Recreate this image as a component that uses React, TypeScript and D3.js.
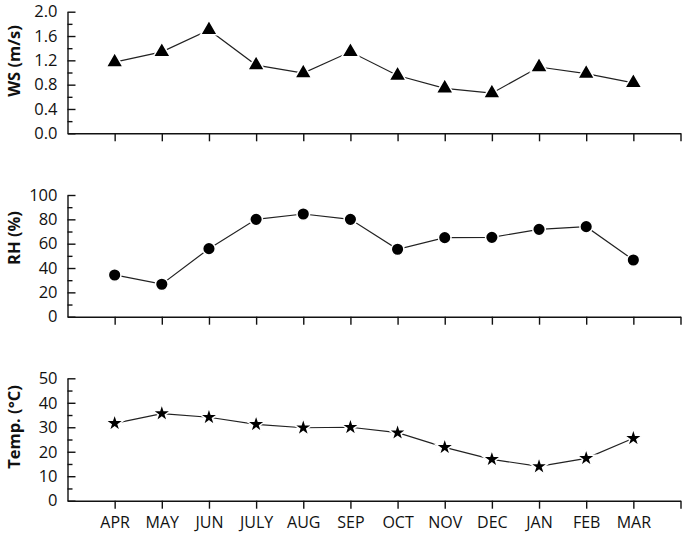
import React, { useRef, useEffect } from 'react';
import * as d3 from 'd3';

const months = ['APR', 'MAY', 'JUN', 'JULY', 'AUG', 'SEP', 'OCT', 'NOV', 'DEC', 'JAN', 'FEB', 'MAR'];
const wsValues = [1.17, 1.34, 1.7, 1.12, 0.99, 1.34, 0.95, 0.74, 0.66, 1.09, 0.98, 0.83];
const rhValues = [34.3, 26.7, 55.9, 80, 84.4, 80, 55.4, 65, 65.2, 71.8, 74, 46.6];
const tempValues = [31.6, 35.6, 34.1, 31.2, 29.8, 30, 27.8, 21.8, 16.9, 14, 17.3, 25.5];
const wsTicks = [0, 0.4, 0.8, 1.2, 1.6, 2.0];
const rhTicks = [0, 20, 40, 60, 80, 100];
const tempTicks = [0, 10, 20, 30, 40, 50];

const FONT = '"Open Sans", sans-serif';

function App() {
  const svgRef = useRef(null);

  useEffect(() => {
    const svg = d3.select(svgRef.current);
    svg.selectAll('*').remove();

    const x = d3.scaleLinear().domain([-1, months.length]).range([67.5, 680.5]);

    const panels = [
      { title: 'WS (m/s)', values: wsValues, ticks: wsTicks, fmt: (d) => d.toFixed(1), top: 11.7, bottom: 133.3, titleY: 61, marker: d3.symbolTriangle, size: 125 },
      { title: 'RH (%)', values: rhValues, ticks: rhTicks, fmt: (d) => String(d), top: 195, bottom: 316.7, titleY: 238, marker: d3.symbolCircle, size: 125 },
      { title: 'Temp. (°C)', values: tempValues, ticks: tempTicks, fmt: (d) => String(d), top: 378.3, bottom: 500.7, titleY: 427, marker: d3.symbolStar, size: 105 },
    ];

    panels.forEach((p, pi) => {
      const max = p.ticks[p.ticks.length - 1];
      const step = p.ticks[1] - p.ticks[0];
      const y = d3.scaleLinear().domain([0, max]).range([p.bottom, p.top]);
      const g = svg.append('g');

      // minor ticks
      const minor = d3.range(0, max, step).map((v) => v + step / 2);
      g.append('g')
        .attr('transform', `translate(${x(-1)},0)`)
        .call(d3.axisLeft(y).tickValues(minor).tickSize(-5).tickSizeOuter(0).tickFormat(() => ''))
        .call((a) => a.select('.domain').remove());

      const yAxis = g.append('g')
        .attr('transform', `translate(${x(-1)},0)`)
        .call(d3.axisLeft(y).tickValues(p.ticks).tickSize(-8).tickSizeOuter(0).tickPadding(10).tickFormat(p.fmt));
      yAxis.selectAll('text').attr('font-size', 16.5).attr('font-family', FONT).attr('fill', '#111');

      const xAxis = g.append('g')
        .attr('transform', `translate(0,${p.bottom})`)
        .call(d3.axisBottom(x).tickValues(d3.range(0, months.length + 1)).tickSize(8).tickSizeOuter(0).tickPadding(8)
          .tickFormat((i) => (pi === panels.length - 1 && months[i] ? months[i] : '')));
      xAxis.selectAll('text').attr('font-size', 16).attr('font-family', FONT).attr('fill', '#111');

      svg.selectAll('.domain, .tick line').attr('stroke', '#111').attr('stroke-width', 1.4);

      const lineGen = d3.line().x((d, i) => x(i)).y((d) => y(d));
      g.append('path')
        .datum(p.values)
        .attr('d', lineGen)
        .attr('fill', 'none')
        .attr('stroke', '#222')
        .attr('stroke-width', 1.2);

      g.selectAll('.pt')
        .data(p.values)
        .enter()
        .append('path')
        .attr('d', d3.symbol().type(p.marker).size(p.size))
        .attr('transform', (d, i) => `translate(${x(i)},${y(d)})`)
        .attr('fill', '#000')
        .attr('stroke', '#fff')
        .attr('stroke-width', 1.5);

      g.append('text')
        .attr('transform', `translate(20,${p.titleY}) rotate(-90)`)
        .attr('text-anchor', 'middle')
        .attr('font-size', 16.5)
        .attr('font-weight', 'bold')
        .attr('font-family', FONT)
        .attr('fill', '#111')
        .text(p.title);
    });
  }, []);

  return (
    <svg
      ref={svgRef}
      width={685}
      height={536}
      style={{ position: 'absolute', left: 0, top: 0, background: '#fff' }}
    />
  );
}

export default App;
